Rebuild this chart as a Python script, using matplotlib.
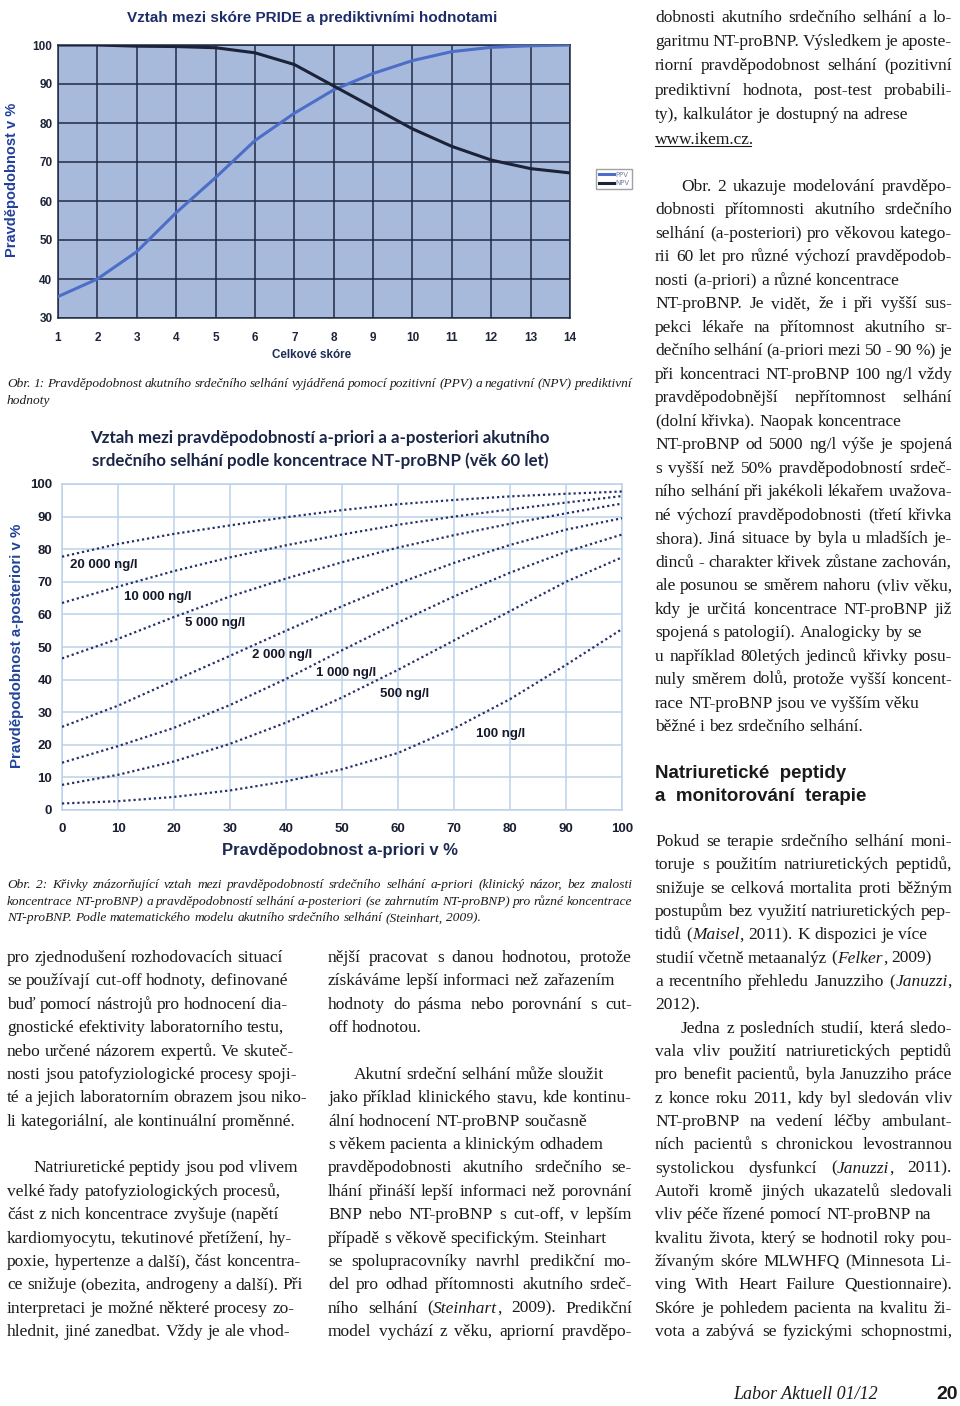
import matplotlib
matplotlib.use('Agg')
import matplotlib.pyplot as plt
from matplotlib.lines import Line2D

W, H = 960, 1406

# --- Obr. 1: PRIDE score vs predictive values ---
score = list(range(1, 15))
ppv = [35.5, 40, 47, 57, 66, 75.5, 82.5, 88.5, 92.7, 96, 98.3, 99.4, 99.8, 100]
npv = [100, 100, 99.7, 99.6, 99.3, 98, 95, 89.5, 84, 78.5, 74, 70.5, 68.3, 67.2]
yticks1 = [30, 40, 50, 60, 70, 80, 90, 100]

# --- Obr. 2: a-priori vs a-posteriori probability by NT-proBNP ---
prior = [0, 10, 20, 30, 40, 50, 60, 70, 80, 90, 100]
post_20000 = [77.7, 81.6, 84.7, 87.3, 89.8, 92.0, 93.8, 95.1, 96.2, 97.0, 97.7]
post_10000 = [63.5, 68.5, 73.3, 77.5, 81.2, 84.5, 87.5, 90.0, 92.2, 94.3, 96.3]
post_5000 = [46.5, 52.5, 59.2, 65.5, 71.0, 76.0, 80.5, 84.3, 87.8, 91.0, 94.0]
post_2000 = [25.5, 32.0, 39.7, 47.3, 55.0, 62.5, 69.5, 75.8, 81.3, 86.0, 89.5]
post_1000 = [14.5, 19.6, 25.2, 32.2, 40.2, 49.0, 57.5, 65.5, 72.8, 79.2, 84.5]
post_500 = [7.7, 10.8, 14.9, 20.3, 26.8, 34.5, 43.0, 52.0, 61.0, 70.0, 77.5]
post_100 = [2.0, 2.7, 4.0, 6.0, 8.8, 12.5, 17.5, 25.0, 34.0, 44.5, 55.5]
curve_labels = ['20 000 ng/l', '10 000 ng/l', '5 000 ng/l', '2 000 ng/l',
                '1 000 ng/l', '500 ng/l', '100 ng/l']
label_x = [1.5, 11, 22, 34, 45.3, 56.8, 74]
label_y = [75.3, 65.3, 57.5, 47.6, 42, 35.5, 23.3]

fig = plt.figure(figsize=(W / 100, H / 100), dpi=100)
fig.patch.set_facecolor('white')
renderer = fig.canvas.get_renderer()


def fx(x):
    return x / W


def fy(y):
    return 1 - y / H


SANS = 'Liberation Sans'
SERIF = 'Liberation Serif'
BODY = 12.5

# ---------------- chart 1 ----------------
ax1 = fig.add_axes([fx(58), fy(318), 512 / W, 273 / H])
ax1.set_facecolor('#a8badb')
ax1.plot(score, ppv, color='#4c6ec8', lw=2.2, label='PPV', zorder=3)
ax1.plot(score, npv, color='#1c2238', lw=2.2, label='NPV', zorder=3)
ax1.set_xlim(1, 14)
ax1.set_ylim(30, 100)
ax1.set_xticks(score)
ax1.set_yticks(yticks1)
ax1.set_xticklabels([str(s) for s in score], fontweight='bold', fontsize=8.5,
                    family=SANS, color='#1d2438')
ax1.set_yticklabels([str(v) for v in yticks1], fontweight='bold', fontsize=8.5,
                    family=SANS, color='#1d2438')
ax1.tick_params(length=0, pad=4)
ax1.tick_params(axis='x', pad=10)
ax1.grid(True, color='#1f2a44', lw=1.1)
for s in ax1.spines.values():
    s.set_color('#1f2a44')
    s.set_linewidth(1.1)
ax1.legend(loc='upper left', bbox_to_anchor=(fx(593), fy(166)),
           bbox_transform=fig.transFigure, fontsize=5, frameon=True,
           fancybox=False, edgecolor='#8a8a8a', handlelength=2.2,
           handletextpad=0.2, borderpad=0.35, labelspacing=0.35,
           labelcolor='#7080a0')

fig.text(fx(312), fy(18), 'Vztah mezi skóre PRIDE a prediktivními hodnotami',
         ha='center', va='center', fontsize=11, fontweight='bold',
         family=SANS, color='#1d2c6a')
fig.text(fx(12), fy(180), 'Pravděpodobnost v %', rotation=90, ha='center',
         va='center', fontsize=10.5, fontweight='bold', family=SANS,
         color='#22409a')
fig.text(fx(312), fy(355), 'Celkové skóre', ha='center', va='center',
         fontsize=8.4, fontweight='bold', family=SANS, color='#1d2c55')

# ---------------- chart 2 ----------------
ax2 = fig.add_axes([fx(62), fy(810), 560 / W, 326 / H])
ax2.set_facecolor('white')
series = [post_20000, post_10000, post_5000, post_2000, post_1000, post_500, post_100]
for vals, lab, tx, ty in zip(series, curve_labels, label_x, label_y):
    ax2.plot(prior, vals, color='#26306a', lw=1.6, linestyle=(0, (1, 1.3)),
             zorder=3)
    ax2.text(tx, ty, lab, fontsize=9.5, fontweight='bold', family=SANS,
             color='#15182a', va='center', ha='left', zorder=4)
ax2.set_xlim(0, 100)
ax2.set_ylim(0, 100)
ax2.set_xticks(prior)
ax2.set_yticks(prior)
ax2.set_xticklabels([str(v) for v in prior], fontweight='bold', fontsize=9.5,
                    family=SANS, color='#1a1e30')
ax2.set_yticklabels([str(v) for v in prior], fontweight='bold', fontsize=9.5,
                    family=SANS, color='#1a1e30')
ax2.tick_params(length=0, pad=7)
ax2.tick_params(axis='x', pad=9)
ax2.grid(True, color='#bcd2ea', lw=1.1)
for s in ax2.spines.values():
    s.set_color('#bcd2ea')
    s.set_linewidth(1.1)

fig.text(fx(320), fy(438), 'Vztah mezi pravděpodobností a-priori a a-posteriori akutního',
         ha='center', va='center', fontsize=12.2, fontweight='bold',
         family='Lato', color='#1b2548')
fig.text(fx(320), fy(461), 'srdečního selhání podle koncentrace NT-proBNP (věk 60 let)',
         ha='center', va='center', fontsize=12.2, fontweight='bold',
         family='Lato', color='#1b2548')
fig.text(fx(17), fy(646), 'Pravděpodobnost a-posteriori v %', rotation=90,
         ha='center', va='center', fontsize=10.8, fontweight='bold', family=SANS,
         color='#23449a')
fig.text(fx(340), fy(850), 'Pravděpodobnost a-priori v %', ha='center',
         va='center', fontsize=12, fontweight='bold', family=SANS,
         color='#1b2850')

# ---------------- page text ----------------
_cache = {}


def measure(s, fs, style, family):
    key = (s, fs, style, family)
    if key not in _cache:
        t = fig.text(0, 0, s, fontsize=fs, style=style, family=family)
        _cache[key] = t.get_window_extent(renderer).width
        t.remove()
    return _cache[key]


def put_line(x0, x1, y, line, fs=BODY, justify=False, indent=0,
             family=SERIF, italic=False, color='#1a1a1a'):
    # '*' toggles italic inside the line
    words = line.split(' ')
    parsed = []
    state = italic
    for w in words:
        parts = []
        for i, p in enumerate(w.split('*')):
            if i > 0:
                state = not state
            if p:
                parts.append((p, 'italic' if state else 'normal'))
        parsed.append(parts)
    space = measure('a a', fs, 'normal', family) - measure('aa', fs, 'normal', family)
    widths = [[measure(p, fs, st, family) for p, st in parts] for parts in parsed]
    total = sum(sum(w) for w in widths)
    gap = space
    if justify and len(words) > 1:
        gap = max((x1 - x0 - indent - total) / (len(words) - 1), space * 0.6)
    x = x0 + indent
    for parts, ws in zip(parsed, widths):
        for (p, st), w in zip(parts, ws):
            fig.text(fx(x), fy(y), p, fontsize=fs, style=st, family=family,
                     va='baseline', ha='left', color=color)
            x += w
        x += gap
    return x - gap


def column(x0, x1, y0, step, rows, fs=BODY):
    for i, row in enumerate(rows):
        if row is None:
            continue
        text, ind, just = row
        put_line(x0, x1, y0 + i * step, text, fs=fs, justify=just,
                 indent=26 if ind else 0)


cap1 = ['Obr. 1: Pravděpodobnost akutního srdečního selhání vyjádřená pomocí pozitivní (PPV) a negativní (NPV) prediktivní',
        'hodnoty']
put_line(7, 632, 387, cap1[0], fs=9.6, justify=True, italic=True)
put_line(7, 632, 404, cap1[1], fs=9.6, italic=True)

cap2 = ['Obr. 2: Křivky znázorňující vztah mezi pravděpodobností srdečního selhání a-priori (klinický názor, bez znalosti',
        'koncentrace NT-proBNP) a pravděpodobností selhání a-posteriori (se zahrnutím NT-proBNP) pro různé koncentrace',
        'NT-proBNP. Podle matematického modelu akutního srdečního selhání (Steinhart, 2009).']
put_line(7, 632, 888, cap2[0], fs=9.6, justify=True, italic=True)
put_line(7, 632, 905, cap2[1], fs=9.6, justify=True, italic=True)
put_line(7, 632, 921, cap2[2], fs=9.6, italic=True)

top_right = [
    ('dobnosti akutního srdečního selhání a lo-', False, True),
    ('garitmu NT-proBNP. Výsledkem je aposte-', False, True),
    ('riorní pravděpodobnost selhání (pozitivní', False, True),
    ('prediktivní hodnota, post-test probabili-', False, True),
    ('ty), kalkulátor je dostupný na adrese', False, False),
]
column(655, 952, 22, 24.2, top_right)
xe = put_line(655, 952, 144, 'www.ikem.cz.', fs=BODY)
fig.add_artist(Line2D([fx(655), fx(xe - 3)], [fy(146), fy(146)],
                      color='#1a1a1a', lw=0.8))

right_mid = [
    ('Obr. 2 ukazuje modelování pravděpo-', True, True),
    ('dobnosti přítomnosti akutního srdečního', False, True),
    ('selhání (a-posteriori) pro věkovou katego-', False, True),
    ('rii 60 let pro různé výchozí pravděpodob-', False, True),
    ('nosti (a-priori) a různé koncentrace', False, False),
    ('NT-proBNP. Je vidět, že i při vyšší sus-', False, True),
    ('pekci lékaře na přítomnost akutního sr-', False, True),
    ('dečního selhání (a-priori mezi 50 - 90 %) je', False, True),
    ('při koncentraci NT-proBNP 100 ng/l vždy', False, True),
    ('pravděpodobnější nepřítomnost selhání', False, True),
    ('(dolní křivka). Naopak koncentrace', False, False),
    ('NT-proBNP od 5000 ng/l výše je spojená', False, True),
    ('s vyšší než 50% pravděpodobností srdeč-', False, True),
    ('ního selhání při jakékoli lékařem uvažova-', False, True),
    ('né výchozí pravděpodobnosti (třetí křivka', False, True),
    ('shora). Jiná situace by byla u mladších je-', False, True),
    ('dinců - charakter křivek zůstane zachován,', False, True),
    ('ale posunou se směrem nahoru (vliv věku,', False, True),
    ('kdy je určitá koncentrace NT-proBNP již', False, True),
    ('spojená s patologií). Analogicky by se', False, False),
    ('u například 80letých jedinců křivky posu-', False, True),
    ('nuly směrem dolů, protože vyšší koncent-', False, True),
    ('race NT-proBNP jsou ve vyšším věku', False, False),
    ('běžné i bez srdečního selhání.', False, False),
]
column(655, 952, 191, 23.48, right_mid)

fig.text(fx(655), fy(778), 'Natriuretické  peptidy', fontsize=13.5,
         fontweight='bold', family=SANS, va='baseline', color='#1a1a1a')
fig.text(fx(655), fy(801), 'a  monitorování  terapie', fontsize=13.5,
         fontweight='bold', family=SANS, va='baseline', color='#1a1a1a')

right_low = [
    ('Pokud se terapie srdečního selhání moni-', False, True),
    ('toruje s použitím natriuretických peptidů,', False, True),
    ('snižuje se celková mortalita proti běžným', False, True),
    ('postupům bez využití natriuretických pep-', False, True),
    ('tidů (*Maisel*, 2011). K dispozici je více', False, False),
    ('studií včetně metaanalýz (*Felker*, 2009)', False, False),
    ('a recentního přehledu Januzziho (*Januzzi*,', False, True),
    ('2012).', False, False),
    ('Jedna z posledních studií, která sledo-', True, True),
    ('vala vliv použití natriuretických peptidů', False, True),
    ('pro benefit pacientů, byla Januzziho práce', False, True),
    ('z konce roku 2011, kdy byl sledován vliv', False, True),
    ('NT-proBNP na vedení léčby ambulant-', False, True),
    ('ních pacientů s chronickou levostrannou', False, True),
    ('systolickou dysfunkcí (*Januzzi*, 2011).', False, True),
    ('Autoři kromě jiných ukazatelů sledovali', False, True),
    ('vliv péče řízené pomocí NT-proBNP na', False, False),
    ('kvalitu života, který se hodnotil roky pou-', False, True),
    ('žívaným skóre MLWHFQ (Minnesota Li-', False, True),
    ('ving With Heart Failure Questionnaire).', False, True),
    ('Skóre je pohledem pacienta na kvalitu ži-', False, True),
    ('vota a zabývá se fyzickými schopnostmi,', False, True),
]
column(655, 952, 846, 23.33, right_low)

left_low = [
    ('pro zjednodušení rozhodovacích situací', False, False),
    ('se používají cut-off hodnoty, definované', False, False),
    ('buď pomocí nástrojů pro hodnocení dia-', False, False),
    ('gnostické efektivity laboratorního testu,', False, False),
    ('nebo určené názorem expertů. Ve skuteč-', False, False),
    ('nosti jsou patofyziologické procesy spoji-', False, False),
    ('té a jejich laboratorním obrazem jsou niko-', False, False),
    ('li kategoriální, ale kontinuální proměnné.', False, False),
    None,
    ('Natriuretické peptidy jsou pod vlivem', True, False),
    ('velké řady patofyziologických procesů,', False, False),
    ('část z nich koncentrace zvyšuje (napětí', False, False),
    ('kardiomyocytu, tekutinové přetížení, hy-', False, False),
    ('poxie, hypertenze a další), část koncentra-', False, False),
    ('ce snižuje (obezita, androgeny a další). Při', False, False),
    ('interpretaci je možné některé procesy zo-', False, False),
    ('hlednit, jiné zanedbat. Vždy je ale vhod-', False, False),
]
column(7, 302, 962, 23.38, left_low)

mid_low = [
    ('nější pracovat s danou hodnotou, protože', False, True),
    ('získáváme lepší informaci než zařazením', False, False),
    ('hodnoty do pásma nebo porovnání s cut-', False, True),
    ('off hodnotou.', False, False),
    None,
    ('Akutní srdeční selhání může sloužit', True, False),
    ('jako příklad klinického stavu, kde kontinu-', False, True),
    ('ální hodnocení NT-proBNP současně', False, False),
    ('s věkem pacienta a klinickým odhadem', False, False),
    ('pravděpodobnosti akutního srdečního se-', False, True),
    ('lhání přináší lepší informaci než porovnání', False, True),
    ('BNP nebo NT-proBNP s cut-off, v lepším', False, True),
    ('případě s věkově specifickým. Steinhart', False, False),
    ('se spolupracovníky navrhl predikční mo-', False, True),
    ('del pro odhad přítomnosti akutního srdeč-', False, True),
    ('ního selhání (*Steinhart*, 2009). Predikční', False, True),
    ('model vychází z věku, apriorní pravděpo-', False, True),
]
column(328, 632, 962, 23.38, mid_low)

fig.text(fx(878), fy(1399), 'Labor Aktuell 01/12', fontsize=13, style='italic',
         family=SERIF, ha='right', va='baseline', color='#1a1a1a')
fig.text(fx(958), fy(1399), '20', fontsize=14, fontweight='bold', family=SANS,
         ha='right', va='baseline', color='#1a1a1a')

fig.savefig('out.png', dpi=100, facecolor='white')
